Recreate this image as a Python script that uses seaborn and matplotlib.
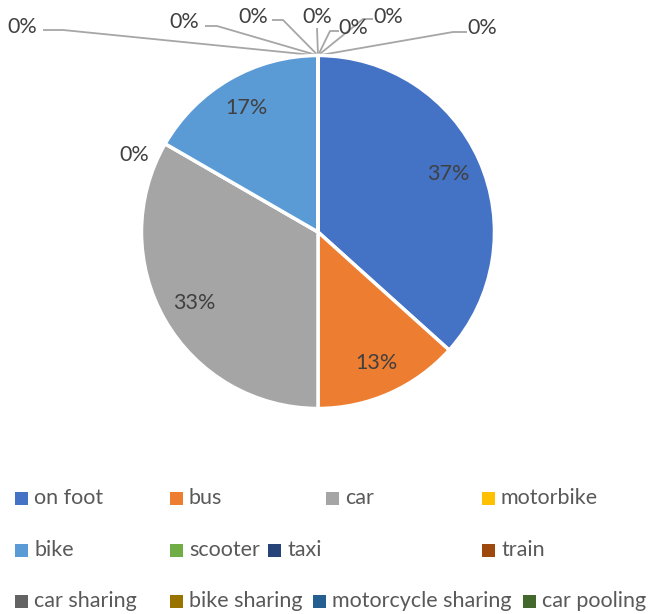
import matplotlib.pyplot as plt
import matplotlib.patches as mpatches
import seaborn as sns
import numpy as np

# data
modes = ['on foot', 'bus', 'car', 'motorbike', 'bike', 'scooter', 'taxi', 'train',
         'car sharing', 'bike sharing', 'motorcycle sharing', 'car pooling']
counts = [11, 4, 10, 0, 5, 0, 0, 0, 0, 0, 0, 0]
colors = ['#4472C4', '#ED7D31', '#A5A5A5', '#FFC000', '#5B9BD5', '#70AD47',
          '#264478', '#9E480E', '#636363', '#997300', '#255E91', '#43682B']

sns.set_theme(style='white')
plt.rcParams['font.family'] = ['Lato', 'DejaVu Sans']

W, H = 651, 614
CX, CY, R = 318, 232, 176.5   # pie centre / radius in pixels
FS = 15.5


def px2d(x, y):
    # pixel position (from top-left) -> data units of the pie axes
    return (x - CX) / R, (CY - y) / R


fig = plt.figure(figsize=(W / 100, H / 100), dpi=100)
ax = fig.add_axes([0, 0, 1, 1])

wedges, texts, autotexts = ax.pie(
    counts, colors=colors, startangle=90, counterclock=False, radius=1,
    autopct=lambda p: f'{p:.0f}%' if p > 0 else '', pctdistance=0.81,
    wedgeprops=dict(edgecolor='white', linewidth=2.5),
    textprops=dict(color='#404040', fontsize=FS))

ax.set_aspect('auto')
ax.set_xlim(-CX / R, (W - CX) / R)
ax.set_ylim(-(H - CY) / R, CY / R)
ax.axis('off')

# zero labels: motorbike sits beside the pie, the others are pulled out on leaders
zero_idx = [i for i, c in enumerate(counts) if c == 0]
mx, my = px2d(134, 155)
ax.text(mx, my, '0%', ha='center', va='center', color='#404040', fontsize=FS)

# label centre, leader points (pixels)
leader_layout = [
    ((22, 27), [(43, 30), (63, 30)]),
    ((184, 22), [(205, 26), (217, 26)]),
    ((253, 17), [(272, 20), (283, 20)]),
    ((317, 17), [(317, 28)]),
    ((353, 28), [(339, 31), (330, 31)]),
    ((388, 17), [(373, 19), (363, 19)]),
    ((482, 28), [(467, 32), (453, 32)]),
]
for i, (lab, pts) in zip(zero_idx[1:], leader_layout):
    th = np.deg2rad(wedges[i].theta1)
    apex = (np.cos(th), np.sin(th))
    line = [px2d(*p) for p in pts] + [apex]
    ax.plot([p[0] for p in line], [p[1] for p in line], color='#A6A6A6', lw=1.3,
            solid_capstyle='butt', zorder=0)
    tx, ty = px2d(*lab)
    ax.text(tx, ty, '0%', ha='center', va='center', color='#404040', fontsize=FS)

# legend (Excel-like flowing rows)
legend_rows = [
    (498, [(15, 0), (170, 1), (326, 2), (482, 3)]),
    (550, [(15, 4), (170, 5), (268, 6), (482, 7)]),
    (601, [(15, 8), (170, 9), (313, 10), (523, 11)]),
]
for y, items in legend_rows:
    for x, i in items:
        fig.add_artist(mpatches.Rectangle((x / W, 1 - (y + 7) / H), 13 / W, 13 / H,
                                          transform=fig.transFigure,
                                          facecolor=colors[i], edgecolor='none'))
        fig.text((x + 19) / W, 1 - y / H, modes[i], ha='left', va='center',
                 color='#595959', fontsize=FS)

fig.savefig('out.png', dpi=100)
